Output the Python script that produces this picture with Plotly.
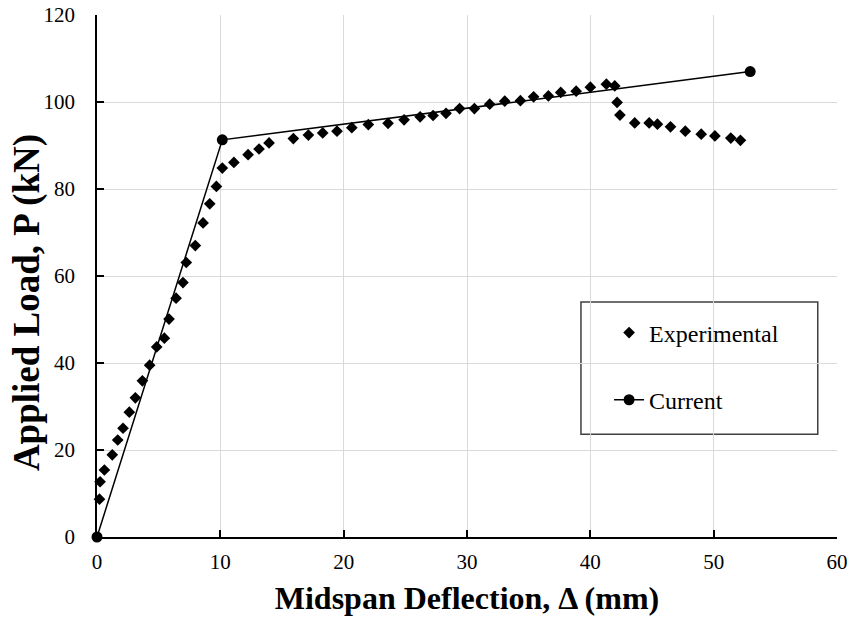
import plotly.graph_objects as go

exp_x = [0.2, 0.25, 0.6, 1.24, 1.68, 2.11, 2.62, 3.11, 3.68, 4.27, 4.84, 5.46, 5.84, 6.41, 6.97, 7.24,
         7.97, 8.6, 9.14, 9.68, 10.16, 11.1, 12.25, 13.14, 13.95, 15.92, 17.14, 18.3, 19.46, 20.66,
         22.0, 23.6, 24.9, 26.2, 27.25, 28.3, 29.4, 30.6, 31.84, 33.06, 34.33, 35.4, 36.6, 37.6,
         38.85, 40.0, 41.3, 41.98, 42.17, 42.4, 43.6, 44.77, 45.44, 46.5, 47.7, 48.99, 50.1, 51.39, 52.17]
exp_y = [8.7, 12.7, 15.4, 18.9, 22.3, 25.0, 28.7, 32.0, 35.9, 39.5, 43.7, 45.7, 50.1, 54.9, 58.5, 63.1,
         67.0, 72.2, 76.6, 80.6, 84.8, 86.1, 87.9, 89.2, 90.6, 91.6, 92.4, 92.9, 93.3, 94.1,
         94.8, 95.1, 95.9, 96.6, 96.9, 97.4, 98.5, 98.5, 99.5, 100.2, 100.3, 101.2, 101.4, 102.2,
         102.5, 103.4, 104.1, 103.7, 99.9, 97.0, 95.2, 95.2, 94.9, 94.3, 93.3, 92.6, 92.2, 91.7, 91.2]

cur_x = [0, 10.16, 52.96]
cur_y = [0, 91.3, 107.0]

x_ticks = [0, 10, 20, 30, 40, 50, 60]
y_ticks = [0, 20, 40, 60, 80, 100, 120]

FONT = "Liberation Serif"

fig = go.Figure()
fig.add_trace(go.Scatter(
    x=exp_x, y=exp_y, mode="markers", name="Experimental",
    marker=dict(symbol="diamond", size=9, color="black"),
    legendgroup="a", cliponaxis=False,
))
fig.add_trace(go.Scatter(
    x=cur_x, y=cur_y, mode="lines+markers", name="Current",
    line=dict(color="black", width=1.5),
    marker=dict(symbol="circle", size=11, color="black"),
    legendgroup="b", cliponaxis=False,
))

axis_common = dict(
    showgrid=True, gridcolor="#d9d9d9", gridwidth=1,
    showline=True, linecolor="black", linewidth=1.5,
    ticks="inside", ticklen=7, tickcolor="black", tickwidth=1.5,
    zeroline=False, mirror=False, automargin=False,
    ticklabeloverflow="allow",
    tickfont=dict(family=FONT, size=21, color="black"),
)

fig.update_layout(
    width=854, height=626,
    margin=dict(l=97, r=17, t=15, b=89),
    paper_bgcolor="white", plot_bgcolor="white",
    font=dict(family=FONT, color="black"),
    xaxis=dict(range=[0, 60], tickvals=x_ticks, ticklabelstandoff=5,
               title=dict(text="<b>Midspan Deflection, Δ (mm)</b>",
                          font=dict(family=FONT, size=32, color="black"), standoff=14),
               **axis_common),
    yaxis=dict(range=[0, 120], tickvals=y_ticks, ticklabelstandoff=16, **axis_common),
    annotations=[dict(text="<b>Applied Load, P (kN)</b>", xref="paper", yref="paper",
                      x=-0.0946, y=0.45, xanchor="center", yanchor="middle",
                      textangle=-90, showarrow=False,
                      font=dict(family=FONT, size=37, color="black"))],
    showlegend=True,
    legend=dict(
        x=0.692, y=0.434, xanchor="left", yanchor="top",
        bgcolor="rgba(0,0,0,0)", borderwidth=0,
        font=dict(family=FONT, size=24, color="black"),
        tracegroupgap=33,
    ),
    shapes=[dict(type="rect", xref="paper", yref="paper",
                 x0=0.654, x1=0.974, y0=0.197, y1=0.450,
                 line=dict(color="#404040", width=1.5), fillcolor="white", layer="below")],
)

fig.write_html("out.html", config={"displayModeBar": False},
               post_script="document.body.style.margin='0';")
